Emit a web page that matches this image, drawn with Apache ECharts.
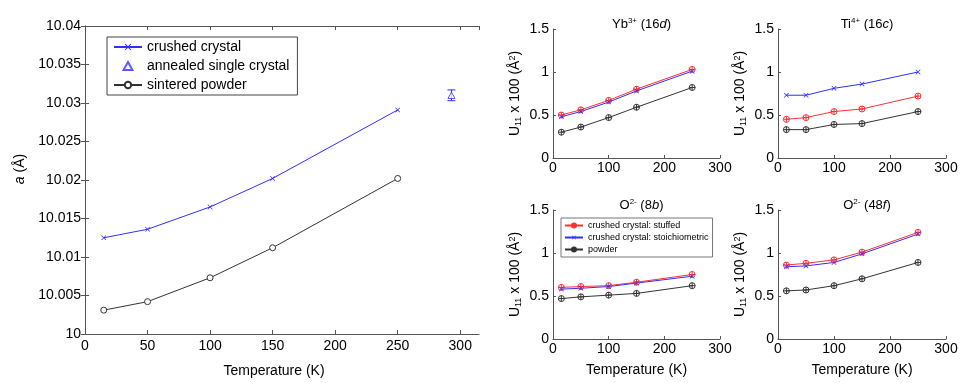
<!DOCTYPE html>
<html>
<head>
<meta charset="utf-8">
<script src="https://cdn.jsdelivr.net/npm/echarts@6/dist/echarts.min.js"></script>
<style>
    body { margin: 0; background: #fff; }
    #myChart { width: 968px; height: 383px; }
</style>
</head>
<body>
<div id="myChart"></div>
<script>

    // temperatures (K)
    var temps = [15, 50, 100, 150, 250]

    // lattice parameter a (Å)
    var crushedA = [10.0125, 10.0136, 10.0165, 10.0202, 10.0291]
    var powderA  = [10.0031, 10.0042, 10.0073, 10.0112, 10.0202]
    var annealedT   = [293]
    var annealedA   = [10.0310]
    var annealedErr = [0.0007]

    // U11 x 100 (Å^2)
    var ybStuffed = [0.50, 0.56, 0.67, 0.80, 1.03]
    var ybStoich  = [0.48, 0.54, 0.65, 0.78, 1.01]
    var ybPowder  = [0.30, 0.36, 0.47, 0.59, 0.82]

    var tiStuffed = [0.45, 0.47, 0.54, 0.57, 0.72]
    var tiStoich  = [0.73, 0.73, 0.81, 0.86, 1.00]
    var tiPowder  = [0.33, 0.33, 0.39, 0.40, 0.54]

    var o8bStuffed = [0.60, 0.61, 0.62, 0.66, 0.75]
    var o8bStoich  = [0.58, 0.59, 0.61, 0.65, 0.73]
    var o8bPowder  = [0.47, 0.49, 0.51, 0.53, 0.62]

    var o48fStuffed = [0.86, 0.88, 0.92, 1.01, 1.24]
    var o48fStoich  = [0.84, 0.85, 0.89, 0.99, 1.22]
    var o48fPowder  = [0.56, 0.57, 0.62, 0.70, 0.89]

    var leftTicks = [10, 10.04, 0.005]
    var subTicks  = [0, 1.5, 0.5]

    var BLUE  = '#2f2fff'
    var RED   = '#ff3030'
    var BLACK = '#333333'
    var AXIS  = '#555555'
    var FONT  = '"Liberation Sans", Arial, sans-serif'

    var xMark = 'path://M0,1L1,0L5,4L9,0L10,1L6,5L10,9L9,10L5,6L1,10L0,9L4,5Z'
    var ring = 'path://M10,5A5,5 0 1 1 0,5A5,5 0 1 1 10,5Z'
    var circlePlus = 'path://M10,5A5,5 0 1 1 0,5A5,5 0 1 1 10,5ZM5,0L5,10M0,5L10,5'
    var triMark = 'path://M5,0L10,9L0,9Z'

    function pairs (arr) {
        return temps.map(function (t, i) { return [t, arr[i]] })
    }

    var supRich = {
        n   : { fontSize: 14, fontFamily: FONT, color: '#000', fontWeight: 'normal' },
        i   : { fontSize: 14, fontFamily: FONT, color: '#000', fontWeight: 'normal', fontStyle: 'italic' },
        sup : { fontSize: 9, fontFamily: FONT, color: '#000', fontWeight: 'normal', verticalAlign: 'top', padding: [0, 0, 6, 0] },
        sub : { fontSize: 9, fontFamily: FONT, color: '#000', fontWeight: 'normal', verticalAlign: 'bottom', padding: [6, 0, 0, 0] }
    }

    var titleRich = {
        n   : { fontSize: 13, fontFamily: FONT, color: '#000', fontWeight: 'normal' },
        i   : { fontSize: 13, fontFamily: FONT, color: '#000', fontWeight: 'normal', fontStyle: 'italic' },
        sup : { fontSize: 8, fontFamily: FONT, color: '#000', fontWeight: 'normal', verticalAlign: 'top', padding: [0, 0, 6, 0] }
    }

    // subplot grids: [left, top, width, height]
    var subGrids = [
        [553, 29, 167, 129],
        [778, 29, 168, 129],
        [553, 210, 167, 129],
        [778, 210, 168, 129]
    ]
    var subTitles = [
        '{n|Yb}{sup|3+}{n| (16}{i|d}{n|)}',
        '{n|Ti}{sup|4+}{n| (16}{i|c}{n|)}',
        '{n|O}{sup|2-}{n| (8}{i|b}{n|)}',
        '{n|O}{sup|2-}{n| (48}{i|f}{n|)}'
    ]
    var subData = [
        [ybStuffed, ybStoich, ybPowder],
        [tiStuffed, tiStoich, tiPowder],
        [o8bStuffed, o8bStoich, o8bPowder],
        [o48fStuffed, o48fStoich, o48fPowder]
    ]

    var grid = [{ left: 85, top: 26, width: 394, height: 311 }]
    var title = []
    var xAxis = [
        {
            gridIndex: 0, type: 'value', min: 0, max: 315, interval: 50,
            name: 'Temperature (K)', nameLocation: 'middle', nameGap: 30,
            nameTextStyle: { fontSize: 14, fontFamily: FONT, color: '#000', padding: [0, 16, 0, 0] },
            axisLine: { lineStyle: { color: AXIS } },
            axisTick: { inside: true, length: 4, lineStyle: { color: AXIS } },
            axisLabel: { fontSize: 14, fontFamily: FONT, color: '#000', margin: 5, showMaxLabel: false,
                formatter: function (v) { return v % 50 === 0 ? v : '' } },
            splitLine: { show: false }
        },
        {
            gridIndex: 0, type: 'value', position: 'top', min: 0, max: 315, interval: 50,
            axisLine: { lineStyle: { color: AXIS } },
            axisTick: { inside: true, length: 4, lineStyle: { color: AXIS } },
            axisLabel: { show: false },
            splitLine: { show: false }
        }
    ]
    var yAxis = [
        {
            gridIndex: 0, type: 'value', min: leftTicks[0], max: leftTicks[1], interval: leftTicks[2],
            name: '{i|a}{n| (Å)}', nameLocation: 'middle', nameGap: 58,
            nameTextStyle: { rich: supRich, padding: [0, 0, 0, 22] },
            axisLine: { lineStyle: { color: AXIS } },
            axisTick: { inside: true, length: 4, lineStyle: { color: AXIS } },
            axisLabel: { fontSize: 14, fontFamily: FONT, color: '#000', margin: 4,
                formatter: function (v) { return String(parseFloat(v.toFixed(3))) } },
            splitLine: { show: false }
        },
        {
            gridIndex: 0, type: 'value', position: 'right', min: leftTicks[0], max: leftTicks[1], interval: leftTicks[2],
            axisLine: { lineStyle: { color: AXIS } },
            axisTick: { inside: true, length: 4, lineStyle: { color: AXIS } },
            axisLabel: { show: false },
            splitLine: { show: false }
        }
    ]

    var series = [
        {
            name: 'crushed crystal', type: 'line', xAxisIndex: 0, yAxisIndex: 0,
            data: pairs(crushedA), symbol: xMark, symbolSize: 5,
            lineStyle: { color: BLUE, width: 1 },
            itemStyle: { color: BLUE }
        },
        {
            name: 'annealed single crystal', type: 'scatter', xAxisIndex: 0, yAxisIndex: 0,
            data: annealedT.map(function (t, i) { return [t, annealedA[i]] }),
            symbol: triMark, symbolSize: 7, symbolKeepAspect: true,
            itemStyle: { color: '#fff', borderColor: BLUE, borderWidth: 1 }, z: 3
        },
        {
            type: 'custom', xAxisIndex: 0, yAxisIndex: 0,
            data: annealedT.map(function (t, i) { return [t, annealedA[i] - annealedErr[i], annealedA[i] + annealedErr[i]] }),
            renderItem: function (params, api) {
                var lo = api.coord([api.value(0), api.value(1)])
                var hi = api.coord([api.value(0), api.value(2)])
                var w = 4
                var st = { stroke: BLUE, lineWidth: 1 }
                return {
                    type: 'group',
                    children: [
                        { type: 'line', shape: { x1: lo[0], y1: lo[1], x2: hi[0], y2: hi[1] }, style: st },
                        { type: 'line', shape: { x1: lo[0] - w, y1: lo[1], x2: lo[0] + w, y2: lo[1] }, style: st },
                        { type: 'line', shape: { x1: hi[0] - w, y1: hi[1], x2: hi[0] + w, y2: hi[1] }, style: st }
                    ]
                }
            }
        },
        {
            name: 'sintered powder', type: 'line', xAxisIndex: 0, yAxisIndex: 0,
            data: pairs(powderA), symbol: ring, symbolSize: 6,
            lineStyle: { color: BLACK, width: 1 },
            itemStyle: { color: '#fff', borderColor: BLACK, borderWidth: 1 }
        }
    ]

    // four small U11 panels
    subGrids.forEach(function (g, k) {
        var gi = grid.length
        var xi = xAxis.length
        var yi = yAxis.length
        var bottomRow = k >= 2
        grid.push({ left: g[0], top: g[1], width: g[2], height: g[3] })
        title.push({
            text: subTitles[k], left: g[0] + g[2] / 2, top: g[1] - 17, textAlign: 'center',
            textStyle: { rich: titleRich, fontWeight: 'normal' }
        })
        xAxis.push({
            gridIndex: gi, type: 'value', min: 0, max: 300, interval: 100,
            name: bottomRow ? 'Temperature (K)' : '', nameLocation: 'middle', nameGap: 24,
            nameTextStyle: { fontSize: 14, fontFamily: FONT, color: '#000' },
            axisLine: { lineStyle: { color: AXIS } },
            axisTick: { inside: true, length: 3, lineStyle: { color: AXIS } },
            axisLabel: { fontSize: 14, fontFamily: FONT, color: '#000', margin: 3 },
            splitLine: { show: false }
        })
        yAxis.push({
            gridIndex: gi, type: 'value', min: subTicks[0], max: subTicks[1], interval: subTicks[2],
            name: '{n|U}{sub|11}{n| x 100 (Å}{sup|2}{n|)}', nameLocation: 'middle', nameGap: 30,
            nameTextStyle: { rich: supRich },
            axisLine: { lineStyle: { color: AXIS } },
            axisTick: { inside: true, length: 3, lineStyle: { color: AXIS } },
            axisLabel: { fontSize: 14, fontFamily: FONT, color: '#000', margin: 4 },
            splitLine: { show: false }
        })
        var d = subData[k]
        series.push({
            name: 'crushed crystal: stuffed', type: 'line', xAxisIndex: xi, yAxisIndex: yi,
            data: pairs(d[0]), symbol: circlePlus, symbolSize: 6,
            lineStyle: { color: RED, width: 1 },
            itemStyle: { color: 'rgba(255,255,255,0)', borderColor: RED, borderWidth: 1 }
        })
        series.push({
            name: 'crushed crystal: stoichiometric', type: 'line', xAxisIndex: xi, yAxisIndex: yi,
            data: pairs(d[1]), symbol: xMark, symbolSize: 5,
            lineStyle: { color: BLUE, width: 1 },
            itemStyle: { color: BLUE }
        })
        series.push({
            name: 'powder', type: 'line', xAxisIndex: xi, yAxisIndex: yi,
            data: pairs(d[2]), symbol: circlePlus, symbolSize: 6,
            lineStyle: { color: BLACK, width: 1 },
            itemStyle: { color: 'rgba(255,255,255,0)', borderColor: BLACK, borderWidth: 1 }
        })
    })

    var myChart = echarts.init(document.getElementById('myChart'))

    myChart.setOption({
        animation: false,
        title: title,
        grid: grid,
        xAxis: xAxis,
        yAxis: yAxis,
        legend: [
            {
                data: ['crushed crystal', 'annealed single crystal', 'sintered powder'],
                orient: 'vertical', left: 107, top: 37,
                itemWidth: 28, itemHeight: 8, itemGap: 5,
                padding: [3, 8, 3, 6],
                borderColor: '#444', borderWidth: 1,
                textStyle: { fontSize: 14, fontFamily: FONT, color: '#000' }
            },
            {
                data: ['crushed crystal: stuffed', 'crushed crystal: stoichiometric', 'powder'],
                orient: 'vertical', left: 561, top: 218,
                itemWidth: 18, itemHeight: 5, itemGap: 3,
                padding: [3, 4, 3, 3],
                borderColor: '#777', borderWidth: 1,
                textStyle: { fontSize: 9, fontFamily: FONT, color: '#000' }
            }
        ],
        series: series
    })

</script>
</body>
</html>
